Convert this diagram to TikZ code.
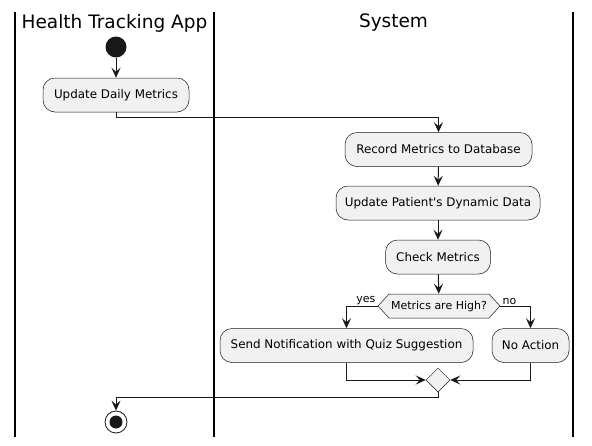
\documentclass[tikz,border=0pt]{standalone}
\usepackage{fontspec}
\setmainfont{DejaVu Sans}
\usetikzlibrary{arrows.meta,shapes.geometric,shapes.symbols}
\definecolor{ln}{HTML}{181818}
\definecolor{bx}{HTML}{F1F1F1}
\tikzset{
  act/.style={draw=ln, fill=bx, line width=0.5pt, rounded corners=12pt, minimum height=34pt, inner sep=0pt, font=\fontsize{11.9}{14}\selectfont},
  flow/.style={draw=ln, line width=1pt, -{Stealth[length=10pt,width=9pt,inset=4pt]}},
  lane/.style={draw=black, line width=1.5pt},
  lanetitle/.style={font=\fontsize{18.5}{21}\selectfont},
  lbl/.style={font=\fontsize{11}{12}\selectfont, inner sep=1pt}
}
\begin{document}
\begin{tikzpicture}[x=1pt,y=-1pt]
\useasboundingbox (0,0) rectangle (592,445);
% lanes
\coordinate (l1t) at (15,12); \coordinate (l1b) at (15,437);
\coordinate (l2t) at (214,12); \coordinate (l2b) at (214,437);
\coordinate (l3t) at (573,12); \coordinate (l3b) at (573,437);
\draw[lane] (l1t) -- (l1b);
\draw[lane] (l2t) -- (l2b);
\draw[lane] (l3t) -- (l3b);
\node[lanetitle] (t1) at (114.5,23) {Health Tracking App};
\node[lanetitle] (t2) at (393.5,23) {System};
% nodes
\node[circle, fill=ln, minimum size=21pt, inner sep=0pt] (start) at (116,47) {};
\node[act, minimum width=146pt] (upd) at (116,95) {Update Daily Metrics};
\node[act, minimum width=187pt] (rec) at (438.5,149.5) {Record Metrics to Database};
\node[act, minimum width=204pt] (pat) at (438,203) {Update Patient\textquotesingle s Dynamic Data};
\node[act, minimum width=105pt] (chk) at (438,257) {Check Metrics};
\node[signal, signal to=west and east, signal pointer angle=95, draw=ln, fill=bx, line width=0.5pt, minimum width=122pt, minimum height=24pt, inner sep=0pt, font=\fontsize{11}{12}\selectfont] (dec) at (439,306) {Metrics are High?};
\node[act, minimum width=253pt] (send) at (346.5,345.5) {Send Notification with Quiz Suggestion};
\node[act, minimum width=77pt] (noa) at (530.5,345.5) {No Action};
\node[diamond, aspect=1, draw=ln, fill=bx, line width=0.5pt, minimum width=24pt, minimum height=24pt, inner sep=0pt] (mrg) at (438,380) {};
\node[circle, draw=ln, line width=0.8pt, fill=white, minimum size=22pt, inner sep=0pt] (stop) at (116,422) {};
\node[circle, fill=ln, minimum size=13pt, inner sep=0pt] (stopin) at (116,422) {};
% connectors
\draw[flow] (start) -- (upd);
\coordinate (c1) at (116,117); \coordinate (c2) at (438.5,117);
\draw[flow] (upd.south) -- (c1) -- (c2) -- (rec.north);
\draw[flow] (rec) -- (pat);
\draw[flow] (pat) -- (chk);
\draw[flow] (chk) -- (dec);
\coordinate (y1) at (346.5,306);
\draw[flow] (dec.west) -- (y1) -- (send.north);
\coordinate (n1) at (530.5,306);
\draw[flow] (dec.east) -- (n1) -- (noa.north);
\node[lbl, anchor=south east] (yes) at ([xshift=-1pt]dec.west) {yes};
\node[lbl, anchor=south west] (no) at ([xshift=1pt]dec.east) {no};
\coordinate (s1) at (346.5,380);
\draw[flow] (send.south) -- (s1) -- (mrg.west);
\coordinate (a1) at (530.5,380);
\draw[flow] (noa.south) -- (a1) -- (mrg.east);
\coordinate (m1) at (438,397); \coordinate (m2) at (116,397);
\draw[flow] (mrg.south) -- (m1) -- (m2) -- (stop.north);
\end{tikzpicture}
\end{document}
